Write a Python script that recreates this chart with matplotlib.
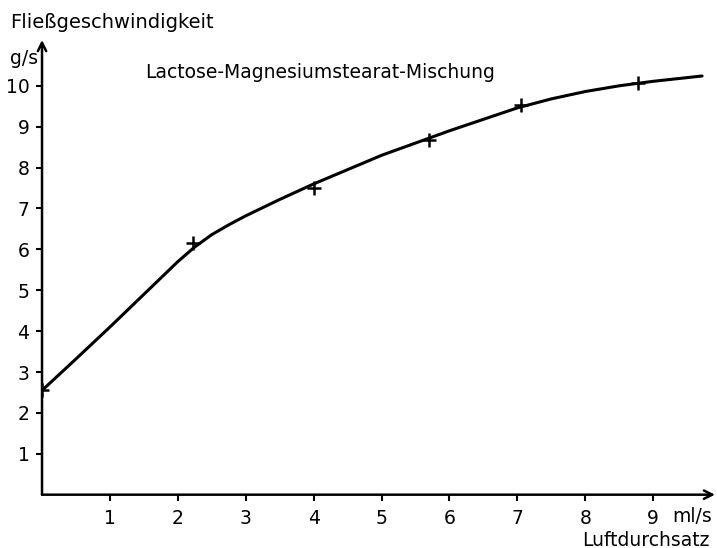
import matplotlib.pyplot as plt

# measured points (crosses)
meas_x = [0.0, 2.23, 4.0, 5.7, 7.05, 8.77]
meas_y = [2.56, 6.15, 7.5, 8.67, 9.53, 10.07]

# hand-drawn curve
curve_x = [0.0, 0.5, 1.0, 1.5, 1.75, 2.0, 2.25, 2.5, 2.75, 3.0, 3.5, 4.0,
           4.5, 5.0, 5.5, 6.0, 6.5, 7.0, 7.5, 8.0, 8.5, 9.0, 9.5, 9.72]
curve_y = [2.55, 3.32, 4.1, 4.9, 5.3, 5.7, 6.06, 6.36, 6.6, 6.82, 7.22,
           7.6, 7.95, 8.3, 8.6, 8.9, 9.18, 9.46, 9.68, 9.86, 10.0, 10.11,
           10.2, 10.24]

xticks = [1, 2, 3, 4, 5, 6, 7, 8, 9]
yticks = [1, 2, 3, 4, 5, 6, 7, 8, 9, 10]

plt.rcParams['font.family'] = 'DejaVu Sans'
fig = plt.figure(figsize=(7.17, 5.48), dpi=100)
ax = fig.add_axes([0.0586, 0.0973, 0.9386, 0.8297])

ax.plot(curve_x, curve_y, color='black', lw=2.2, solid_capstyle='round',
        solid_joinstyle='round')
ax.plot(meas_x, meas_y, '+', color='black', ms=10, mew=1.8)

ax.set_xlim(0, 9.91)
ax.set_ylim(0, 11.12)
for s in ax.spines.values():
    s.set_visible(False)

ax.set_xticks(xticks)
ax.set_yticks(yticks)
ax.tick_params(axis='both', direction='out', length=4, width=1.5,
               labelsize=13.5)
ax.tick_params(axis='x', pad=6)
ax.tick_params(axis='y', pad=5)

# axes with arrows
ax.annotate('', xy=(1.0, 0), xytext=(0, 0), xycoords='axes fraction',
            arrowprops=dict(arrowstyle='->', lw=1.8, color='black',
                            shrinkA=0, shrinkB=0, mutation_scale=15))
ax.annotate('', xy=(0, 1.0), xytext=(0, 0), xycoords='axes fraction',
            arrowprops=dict(arrowstyle='->', lw=1.8, color='black',
                            shrinkA=0, shrinkB=0, mutation_scale=15))

fig.text(10 / 717, 1 - 22 / 548, 'Fließgeschwindigkeit', fontsize=14,
         va='center', ha='left')
fig.text(10 / 717, 1 - 58 / 548, 'g/s', fontsize=13.5, va='center', ha='left')
fig.text(145 / 717, 1 - 72 / 548, 'Lactose-Magnesiumstearat-Mischung',
         fontsize=13.5, va='center', ha='left')
fig.text(672 / 717, 1 - 517 / 548, 'ml/s', fontsize=13.5, va='center', ha='left')
fig.text(709 / 717, 1 - 540 / 548, 'Luftdurchsatz', fontsize=13.5,
         va='center', ha='right')

fig.savefig('out.png', dpi=100, facecolor='white')
